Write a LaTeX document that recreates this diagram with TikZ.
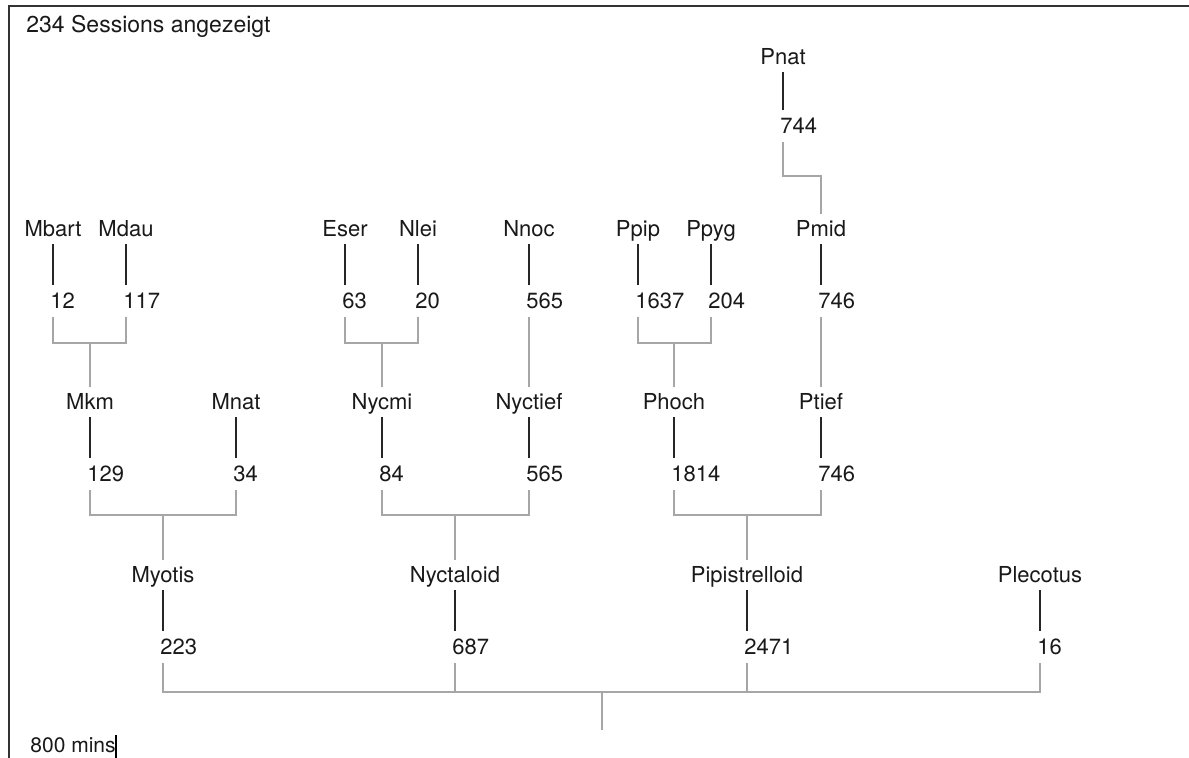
\documentclass[tikz,border=0pt]{standalone}
\usepackage{fontspec}
\setmainfont{TeX Gyre Heros}
\begin{document}
\begin{tikzpicture}[x=0.5pt,y=-0.5pt,
  nm/.style={anchor=base,font=\fontsize{11}{13}\selectfont,text height=8pt,text depth=0pt,inner xsep=0pt,inner ysep=3.5pt,text=black!90},
  num/.style={nm,anchor=base west,inner ysep=4pt},
  blk/.style={draw=black!85,line width=1.1pt},
  gry/.style={draw=black!35,line width=1pt},
  frame/.style={draw=black!80,line width=1.2pt}]
\useasboundingbox (0,0) rectangle (1189,758);
% frame
\coordinate (f1) at (9,758);
\coordinate (f2) at (9,6);
\coordinate (f3) at (1189,6);
\draw[frame] (f1) -- (f2) -- (f3);
% title and scale
\node[anchor=base west,font=\fontsize{11.5}{14}\selectfont,inner sep=0pt,text=black!90] (title) at (26,33) {234 Sessions angezeigt};
\node[anchor=base west,font=\fontsize{10.5}{13}\selectfont,inner sep=0pt,text=black!90] (scale) at (30,752) {800 mins};
\coordinate (sb1) at (116,735);
\coordinate (sb2) at (116,758);
\draw[draw=black,line width=1pt] (sb1) -- (sb2);
% labels and counts
\foreach \id/\x/\yb/\yn/\v in {
  Pnat/783/65/134/744,
  Mbart/53/237/309/12, Mdau/126/237/309/117, Eser/345/237/309/63, Nlei/418/237/309/20,
  Nnoc/529/237/309/565, Ppip/638/237/309/1637, Ppyg/711/237/309/204, Pmid/821/237/309/746,
  Mkm/90/410/482/129, Mnat/236/410/482/34, Nycmi/382/410/482/84, Nyctief/529/410/482/565,
  Phoch/674/410/482/1814, Ptief/821/410/482/746,
  Myotis/163/583/655/223, Nyctaloid/455/583/655/687, Pipistrelloid/747/583/655/2471,
  Plecotus/1040/583/655/16} {
  \node[nm] (\id) at (\x,\yb) {\id};
  \node[num] (n\id) at (\x-3,\yn) {\v};
  \draw[blk] (\id.south) -- (\id.south |- n\id.north);
}
% joins
\coordinate (bPnat) at (821,176);
\draw[gry] (Pnat.south |- nPnat.south) |- (bPnat) -- (Pmid.north);
\coordinate (bMkm) at (90,343);
\draw[gry] (Mbart.south |- nMbart.south) |- (bMkm) -| (Mdau.south |- nMdau.south);
\draw[gry] (bMkm) -- (Mkm.north);
\coordinate (bNycmi) at (382,343);
\draw[gry] (Eser.south |- nEser.south) |- (bNycmi) -| (Nlei.south |- nNlei.south);
\draw[gry] (bNycmi) -- (Nycmi.north);
\draw[gry] (Nnoc.south |- nNnoc.south) -- (Nyctief.north);
\coordinate (bPhoch) at (674,343);
\draw[gry] (Ppip.south |- nPpip.south) |- (bPhoch) -| (Ppyg.south |- nPpyg.south);
\draw[gry] (bPhoch) -- (Phoch.north);
\draw[gry] (Pmid.south |- nPmid.south) -- (Ptief.north);
\coordinate (bMyotis) at (163,515);
\draw[gry] (Mkm.south |- nMkm.south) |- (bMyotis) -| (Mnat.south |- nMnat.south);
\draw[gry] (bMyotis) -- (Myotis.north);
\coordinate (bNyctaloid) at (455,515);
\draw[gry] (Nycmi.south |- nNycmi.south) |- (bNyctaloid) -| (Nyctief.south |- nNyctief.south);
\draw[gry] (bNyctaloid) -- (Nyctaloid.north);
\coordinate (bPip) at (747,515);
\draw[gry] (Phoch.south |- nPhoch.south) |- (bPip) -| (Ptief.south |- nPtief.south);
\draw[gry] (bPip) -- (Pipistrelloid.north);
\coordinate (root) at (602,692);
\coordinate (rootend) at (602,730);
\draw[gry] (Myotis.south |- nMyotis.south) |- (root) -| (Plecotus.south |- nPlecotus.south);
\draw[gry] (Nyctaloid.south |- nNyctaloid.south) -- (Nyctaloid.south |- root);
\draw[gry] (Pipistrelloid.south |- nPipistrelloid.south) -- (Pipistrelloid.south |- root);
\draw[gry] (root) -- (rootend);
\end{tikzpicture}
\end{document}
